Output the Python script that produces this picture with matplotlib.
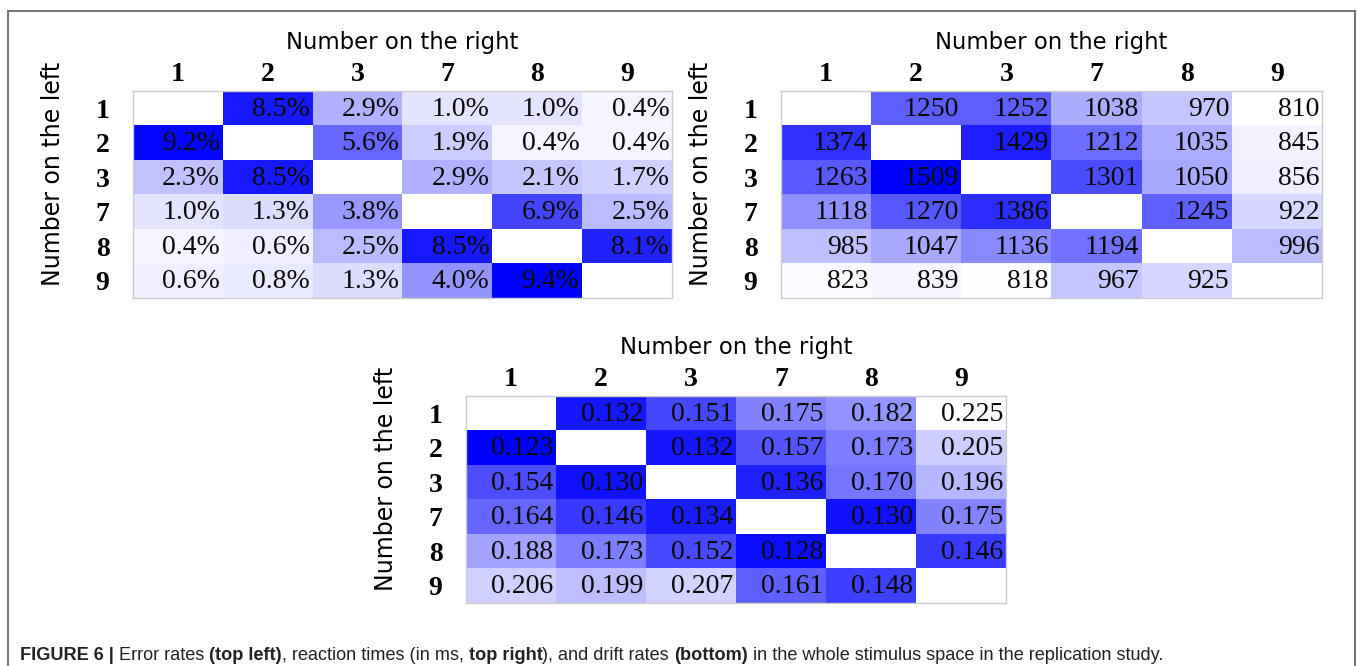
import numpy as np
import matplotlib
matplotlib.use('Agg')
import matplotlib.pyplot as plt
from matplotlib.colors import LinearSegmentedColormap
from matplotlib.patches import Rectangle

# Stimulus numbers
numbers = ['1', '2', '3', '7', '8', '9']

# Error rates (%), rows = number on the left, cols = number on the right
errors = np.array([
    [np.nan, 8.5, 2.9, 1.0, 1.0, 0.4],
    [9.2, np.nan, 5.6, 1.9, 0.4, 0.4],
    [2.3, 8.5, np.nan, 2.9, 2.1, 1.7],
    [1.0, 1.3, 3.8, np.nan, 6.9, 2.5],
    [0.4, 0.6, 2.5, 8.5, np.nan, 8.1],
    [0.6, 0.8, 1.3, 4.0, 9.4, np.nan],
])

# Reaction times (ms)
rts = np.array([
    [np.nan, 1250, 1252, 1038, 970, 810],
    [1374, np.nan, 1429, 1212, 1035, 845],
    [1263, 1509, np.nan, 1301, 1050, 856],
    [1118, 1270, 1386, np.nan, 1245, 922],
    [985, 1047, 1136, 1194, np.nan, 996],
    [823, 839, 818, 967, 925, np.nan],
])

# Drift rates
drifts = np.array([
    [np.nan, 0.132, 0.151, 0.175, 0.182, 0.225],
    [0.123, np.nan, 0.132, 0.157, 0.173, 0.205],
    [0.154, 0.130, np.nan, 0.136, 0.170, 0.196],
    [0.164, 0.146, 0.134, np.nan, 0.130, 0.175],
    [0.188, 0.173, 0.152, 0.128, np.nan, 0.146],
    [0.206, 0.199, 0.207, 0.161, 0.148, np.nan],
])

W, H = 1358, 666
fig = plt.figure(figsize=(W/100, H/100), dpi=100)

cmap = LinearSegmentedColormap.from_list('wb', ['#ffffff', '#0000ff'])
cmap.set_bad('white')
cmap_r = cmap.reversed()
cmap_r.set_bad('white')

def px_axes(x0, y0, x1, y1):
    return fig.add_axes([x0/W, 1-y1/H, (x1-x0)/W, (y1-y0)/H])

def heat(ax, data, labels, cm, vmin, vmax):
    ax.imshow(np.ma.masked_invalid(data), cmap=cm, vmin=vmin, vmax=vmax,
              aspect='auto', interpolation='nearest')
    for i in range(6):
        for j in range(6):
            if not np.isnan(data[i, j]):
                ax.text(j+0.47, i+0.03, labels[i][j], ha='right', va='center',
                        fontsize=20, family='Liberation Serif', color='#0a0a0a')
    ax.set_xticks(range(6))
    ax.set_yticks(range(6))
    ax.set_xticklabels(numbers, fontsize=20, family='Liberation Serif', fontweight='bold')
    ax.set_yticklabels(numbers, fontsize=20, family='Liberation Serif', fontweight='bold')
    ax.xaxis.tick_top()
    ax.tick_params(length=0, pad=3)
    ax.tick_params(axis='y', pad=17)
    for s in ax.spines.values():
        s.set_color('#cccccc')
        s.set_linewidth(1)
    ax.set_xlabel('Number on the right', fontsize=16.4, family='DejaVu Sans', labelpad=9)
    ax.xaxis.set_label_position('top')
    ax.set_ylabel('Number on the left', fontsize=17, family='DejaVu Sans')

ax1 = px_axes(133, 91, 672, 298)
lab1 = [['' if np.isnan(v) else f'{v:.1f}%' for v in row] for row in errors]
heat(ax1, errors, lab1, cmap, 0, np.nanmax(errors))

ax2 = px_axes(781, 91, 1322, 298)
lab2 = [['' if np.isnan(v) else f'{int(v)}' for v in row] for row in rts]
heat(ax2, rts, lab2, cmap, np.nanmin(rts), np.nanmax(rts))

ax3 = px_axes(466, 396, 1006, 603)
lab3 = [['' if np.isnan(v) else f'{v:.3f}' for v in row] for row in drifts]
heat(ax3, drifts, lab3, cmap_r, np.nanmin(drifts), np.nanmax(drifts))

for ax, xl in [(ax1, 53), (ax2, 701), (ax3, 386)]:
    x0 = ax.get_position().x0 * W
    ax.yaxis.set_label_coords((xl - x0) / (ax.get_position().width * W), 0.6)
    ax.yaxis.get_label().set_va('center')

# frame around the figure
fig.patches.append(Rectangle((8/W, -0.01), (1355-8)/W, 1-11/H+0.01, transform=fig.transFigure,
                             fill=False, edgecolor='#777777', linewidth=1.5))

# caption with mixed bold / normal pieces
pieces = [('FIGURE 6 |', 'bold'), (' Error rates ', 'normal'), ('(top left)', 'bold'),
          (', reaction times (in ms, ', 'normal'), ('top right', 'bold'),
          ('), and drift rates ', 'normal'), ('(bottom)', 'bold'),
          (' in the whole stimulus space in the replication study.', 'normal')]
fig.canvas.draw()
r = fig.canvas.get_renderer()
x = 20
for s, w in pieces:
    t = fig.text(x/W, 1-655/H, s, fontsize=13.1, fontweight=w, family='Liberation Sans',
                 va='center', ha='left', color='#222222')
    bb = t.get_window_extent(renderer=r)
    x += bb.width

fig.savefig('out.png', dpi=100)
